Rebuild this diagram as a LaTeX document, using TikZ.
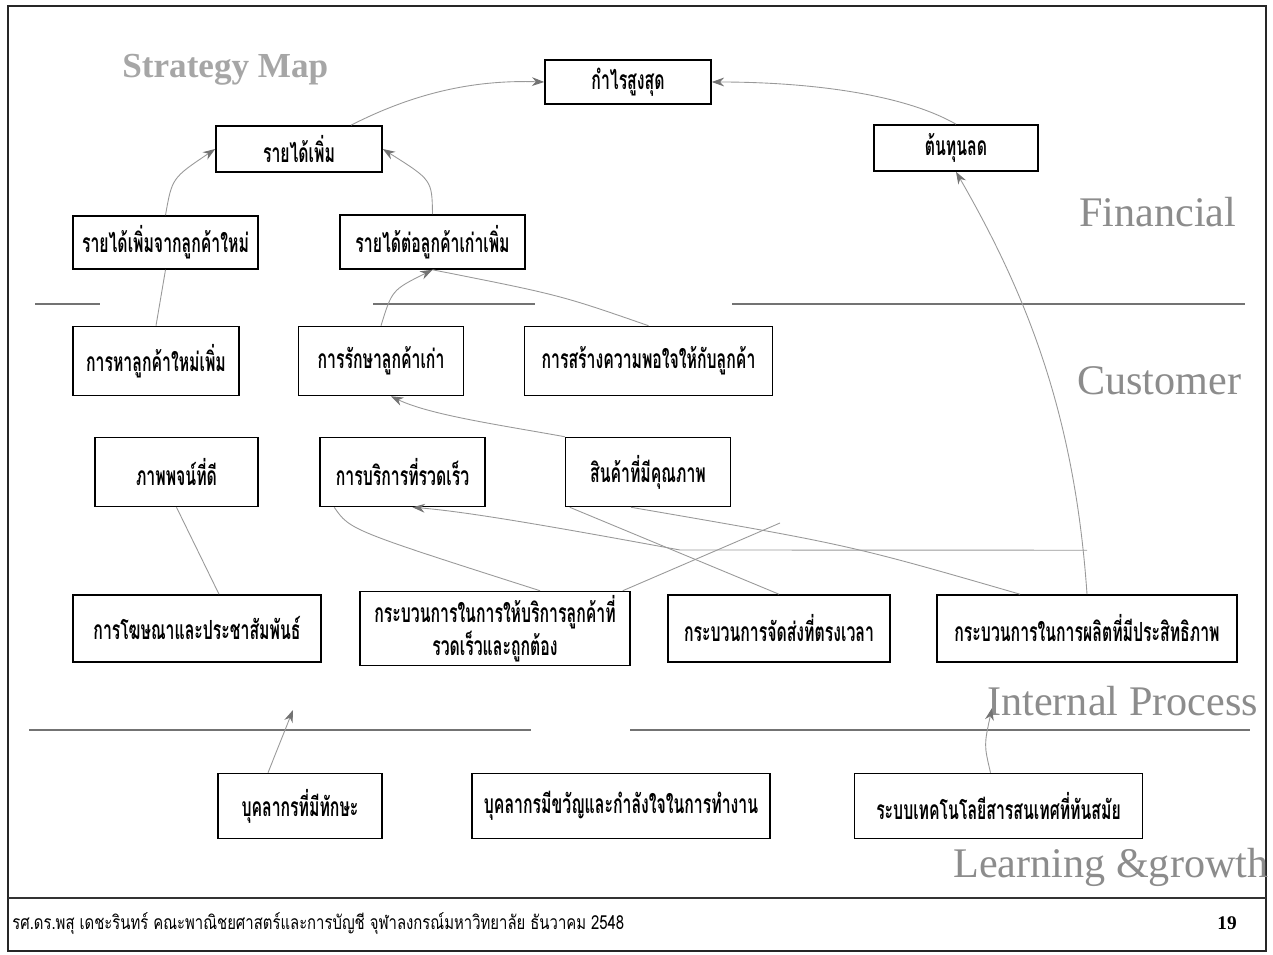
\documentclass[tikz,border=0pt]{standalone}
\usepackage{fontspec}
\setmainfont{Liberation Serif}
\newfontfamily\thaib[Script=Thai,FakeStretch=0.6]{Loma}
\newfontfamily\thaifoot[Script=Thai,FakeStretch=0.77]{Loma}
\usetikzlibrary{arrows.meta,calc}

\begin{document}
\begin{tikzpicture}[x=0.02cm,y=-0.02cm]
\tikzset{
  box/.style={draw=black, line width=0.9pt, align=center, inner sep=2pt,
    font=\thaib\bfseries\fontsize{15}{19}\selectfont, text=black},
  conn/.style={draw=black!40, line width=0.5pt},
  tip/.style={-{Stealth[length=7pt,width=5pt,color=black!55]}},
  sect/.style={anchor=base west, font=\fontsize{24}{28}\selectfont, text=black!45, inner sep=0pt},
  sep/.style={draw=black!55, line width=0.6pt}
}
\fill[white] (0,0) rectangle (1273,955);
\useasboundingbox (0,0) rectangle (1273,955);

% slide frame and footer rule
\draw[line width=1pt, black!85] (8,6) rectangle (1266,951);
\draw[line width=1.6pt, black!80] (8,898) -- (1266,898);

% perspective separators
\draw[sep] (35,304) -- (100,304);
\draw[sep] (373,304) -- (535,304);
\draw[sep] (732,304) -- (1245,304);
\draw[sep] (29,730) -- (531,730);
\draw[sep] (630,730) -- (1250,730);

% titles
\node[anchor=base west, font=\bfseries\fontsize{20}{24}\selectfont, text=black!35, inner sep=0pt] (title) at (122,78) {Strategy Map};
\node[sect] (lfin) at (1079,227) {Financial};
\node[sect] (lcus) at (1077,395) {Customer};
\node[sect] (lint) at (987,715) {Internal Process};
\node[sect] (llg) at (953,877) {Learning \&growth};

% financial perspective
\node[box, minimum width=3.32cm, minimum height=0.88cm] (profit) at (628,82) {กำไรสูงสุด};
\node[box, minimum width=3.32cm, minimum height=0.92cm] (rev) at (299,149) {รายได้เพิ่ม};
\node[box, minimum width=3.28cm, minimum height=0.92cm] (cost) at (956,148) {ต้นทุนลด};
\node[box, minimum width=3.7cm, minimum height=1.06cm] (newrev) at (165.5,242.5) {รายได้เพิ่มจากลูกค้าใหม่};
\node[box, minimum width=3.7cm, minimum height=1.08cm] (oldrev) at (432.5,242) {รายได้ต่อลูกค้าเก่าเพิ่ม};

% customer perspective
\node[box, minimum width=3.32cm, minimum height=1.38cm] (newcust) at (156,361) {การหาลูกค้าใหม่เพิ่ม};
\node[box, minimum width=3.3cm, minimum height=1.38cm] (retain) at (381,361) {การรักษาลูกค้าเก่า};
\node[box, minimum width=4.96cm, minimum height=1.38cm] (satisf) at (648.5,361) {การสร้างความพอใจให้กับลูกค้า};
\node[box, minimum width=3.26cm, minimum height=1.38cm] (image) at (176.5,472) {ภาพพจน์ที่ดี};
\node[box, minimum width=3.3cm, minimum height=1.38cm] (service) at (402.5,472) {การบริการที่รวดเร็ว};
\node[box, minimum width=3.3cm, minimum height=1.38cm] (quality) at (648,472) {สินค้าที่มีคุณภาพ};

% internal process perspective
\node[box, minimum width=4.96cm, minimum height=1.34cm] (advert) at (197,628.5) {การโฆษณาและประชาสัมพันธ์};
\node[box, minimum width=5.4cm, minimum height=1.34cm] (serviceproc) at (495,628.5) {กระบวนการในการให้บริการลูกค้าที่\\รวดเร็วและถูกต้อง};
\node[box, minimum width=4.44cm, minimum height=1.34cm] (delivery) at (779,628.5) {กระบวนการจัดส่งที่ตรงเวลา};
\node[box, minimum width=6.0cm, minimum height=1.34cm] (production) at (1087,628.5) {กระบวนการในการผลิตที่มีประสิทธิภาพ};

% learning and growth perspective
\node[box, minimum width=3.28cm, minimum height=1.3cm] (skill) at (300,806) {บุคลากรที่มีทักษะ};
\node[box, minimum width=5.96cm, minimum height=1.3cm] (morale) at (621,806) {บุคลากรมีขวัญและกำลังใจในการทำงาน};
\node[box, minimum width=5.76cm, minimum height=1.3cm] (it) at (998.5,806) {ระบบเทคโนโลยีสารสนเทศที่ทันสมัย};

% cause-and-effect links
\draw[conn,tip] ($(rev.north)+(52,0)$) .. controls (420,90) and (480,80) .. (profit.west);
\draw[conn,tip] (cost.north) .. controls (900,92) and (800,82) .. (profit.east);
\draw[conn,tip] (newrev.north) .. controls (172,178) .. (rev.west);
\draw[conn,tip] (oldrev.north) .. controls (432,180) .. (rev.east);
\draw[conn,tip] (retain.north) .. controls (392,290) .. (oldrev.south);
\draw[conn] (satisf.north) .. controls (560,295) .. (oldrev.south);
\draw[conn] (newcust.north) -- (newrev.south);
\draw[conn,tip] (production.north) .. controls (1075,420) and (1030,300) .. (cost.south);
\draw[conn,tip] (quality.north west) .. controls (500,425) and (430,415) .. ($(retain.south)+(10,0)$);
\draw[conn,tip] ($(production.north)+(0,-44)$) -- (680,550) .. controls (560,528) and (470,512) .. ($(service.south)+(10,0)$);
\draw[conn] ($(production.north)+(-67,0)$) .. controls (850,545) .. ($(quality.south)+(-17,0)$);
\draw[conn] (delivery.north) -- ($(quality.south west)+(5,0)$);
\coordinate (crossend) at (780,523);
\draw[conn] ($(serviceproc.north east)+(-8,0)$) -- (crossend);
\draw[conn] ($(service.south west)+(15,0)$) .. controls (350,530) .. ($(serviceproc.north)+(45,0)$);
\draw[conn] (image.south) -- ($(advert.north)+(22,0)$);
\coordinate (skilltip) at (293,710);
\draw[conn,tip] ($(skill.north)+(-32,0)$) -- (skilltip);
\coordinate (ittip) at (992,708);
\draw[conn,tip] ($(it.north)+(-8,0)$) .. controls (984,745) .. (ittip);

% footer
\node[anchor=base west, inner sep=0pt, font=\thaifoot\fontsize{11}{13}\selectfont] (foot) at (12,929) {รศ.ดร.พสุ เดชะรินทร์ คณะพาณิชยศาสตร์และการบัญชี จุฬาลงกรณ์มหาวิทยาลัย ธันวาคม 2548};
\node[anchor=base east, inner sep=0pt, font=\bfseries\fontsize{11}{13}\selectfont] (page) at (1237,929) {19};
\end{tikzpicture}
\end{document}
